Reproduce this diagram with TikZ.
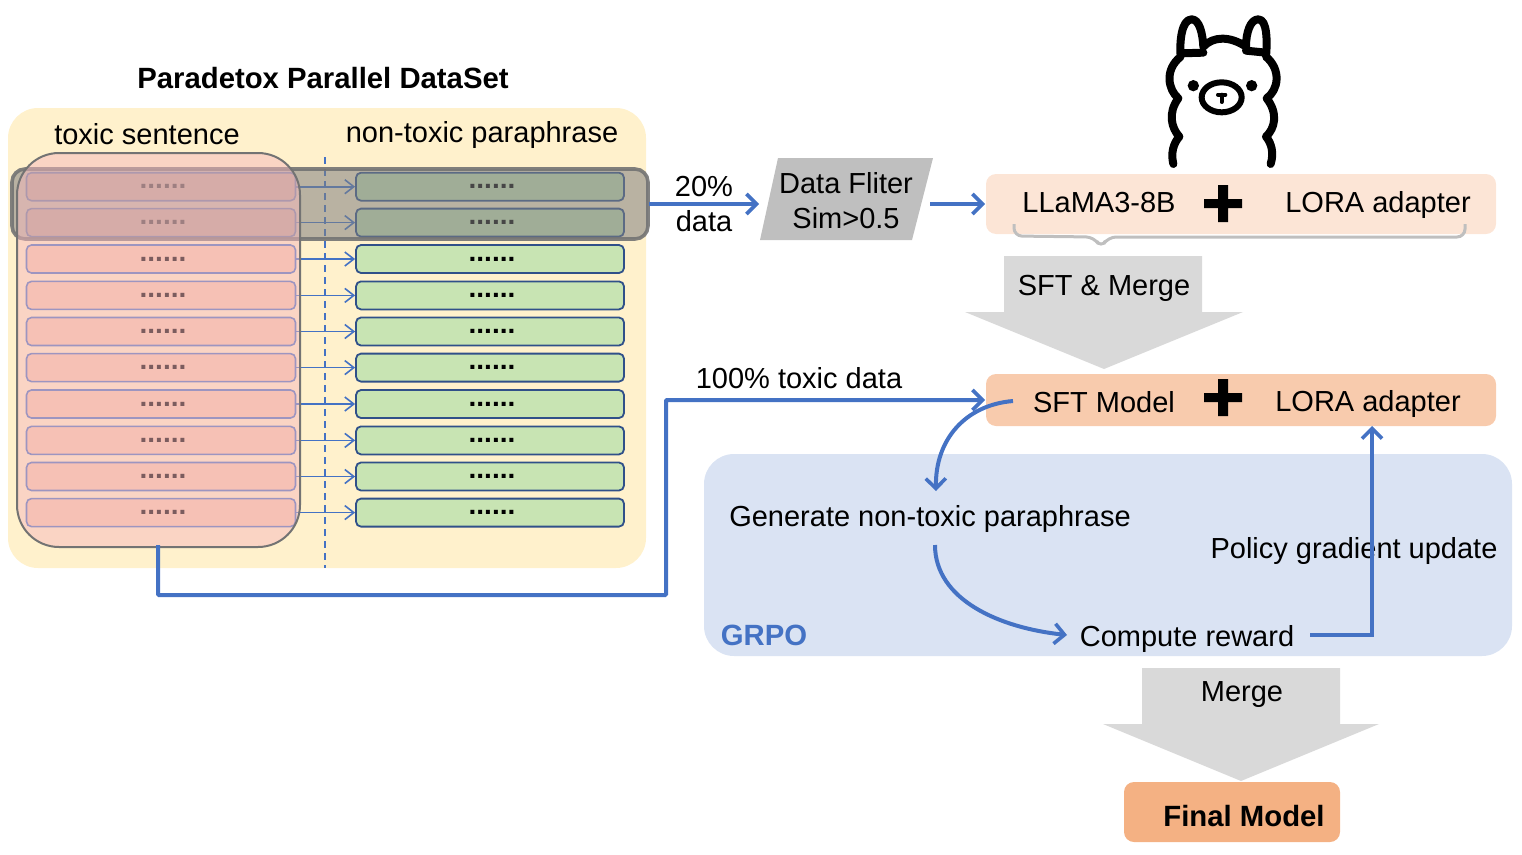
\documentclass[tikz,border=0pt]{standalone}
\usepackage{fontspec}
\setmainfont{Liberation Sans}
\usetikzlibrary{arrows.meta}
\definecolor{bluearr}{HTML}{4472C4}
\definecolor{bigarr}{HTML}{D9D9D9}
\tikzset{
    lbl/.style={font=\fontsize{29}{35}\selectfont,inner sep=0pt,align=center},
    lblbold/.style={font=\fontsize{29.3}{35}\selectfont\bfseries,inner sep=0pt},
    dots/.style={font=\fontsize{28}{28}\selectfont\bfseries,xshift=2pt},
    toxbox/.style={draw=bluearr,line width=1.6pt,fill={rgb,255:red,248;green,203;blue,173},rounded corners=5pt,minimum width=269pt,minimum height=28pt,inner sep=0pt},
    parbox/.style={draw=bluearr!70!black,line width=1.8pt,fill={rgb,255:red,200;green,228;blue,179},rounded corners=5pt,minimum width=268pt,minimum height=28pt,inner sep=0pt},
    rowarr/.style={draw=bluearr,line width=1.6pt,-{Straight Barb[length=9pt,width=14pt,line width=1.6pt]}},
    flowarr/.style={draw=bluearr,line width=4pt,-{Straight Barb[length=10pt,width=20pt,line width=3.6pt]}},
    cross/.style={fill=black},
}
\begin{document}
\begin{tikzpicture}[x=1pt,y=-1pt]
\useasboundingbox (0,0) rectangle (1522,854);
% dataset panel
\fill[rounded corners=30pt,fill={rgb,255:red,255;green,241;blue,204}] (8,108) rectangle (646,568);
\node[lblbold] (title) at (323,78) {Paradetox Parallel DataSet};
\node[lbl] (toxhead) at (147,134) {toxic sentence};
\node[lbl] (parhead) at (482,135) {non-toxic paraphrase};
\draw[bluearr,line width=1.5pt,dash pattern=on 7pt off 5pt] (325,157) -- (325,568);
\foreach \n/\y in {1/186.7,2/222.6,3/259,4/295.4,5/331.5,6/367.6,7/404,8/440.4,9/476.5,10/512.6}{
    \node[toxbox] (tox\n) at (161,\y) {};
    \node[dots] at (tox\n) {......};
    \node[parbox] (par\n) at (490,\y) {};
    \node[dots] at (par\n) {......};
    \draw[rowarr] (tox\n) -- (par\n);
}
% overlays
\draw[draw=black!55,draw opacity=.9,line width=3.6pt,fill=black!50,fill opacity=.55,rounded corners=13pt] (12,169) rectangle (648,239);
\draw[draw=black!55,line width=2pt,fill={rgb,255:red,246;green,184;blue,189},fill opacity=.5,rounded corners=42pt] (17,153) rectangle (300,547);
\coordinate (poolout) at (158,545);
\coordinate (rowout) at (649,204);
% filter
\fill[fill=black!25] (778,158) -- (933,158) -- (912,240) -- (760,240) -- cycle;
\node[lbl] (filter) at (846,201) {Data Fliter\\Sim>0.5};
\coordinate (filterin) at (759,204);
\coordinate (filterout) at (930,204);
\node[lbl] (share) at (704,204) {20\%\\data};
\draw[flowarr] (rowout) -- (filterin);
% base model
\fill[rounded corners=10pt,fill={rgb,255:red,252;green,229;blue,214}] (986,174) rectangle (1496,234);
\node[lbl] (llama) at (1099,203) {LLaMA3-8B};
\node[lbl] (lora) at (1378,205) {LORA adapter};
\fill[cross] (1204,199) rectangle (1242,208) (1218,185) rectangle (1228,222);
\coordinate (basein) at (985,204);
\draw[flowarr] (filterout) -- (basein);
\draw[black!25,line width=3pt,rounded corners=8pt] (1014,224) -- (1014,236) -- (1094,237) -- (1101,248) -- (1108,237) -- (1465,237) -- (1465,224);
% head
\begin{scope}[shift={(1140,0)},x=.3333pt,y=-.3333pt,line width=8pt,line cap=round,line join=round]
\draw (100,492) .. controls (92,460) and (100,430) .. (118,410) .. controls (95,385) and (82,340) .. (115,295) .. controls (85,270) and (72,210) .. (122,170) .. controls (118,125) and (125,58) .. (155,58) .. controls (178,58) and (188,100) .. (190,140) .. controls (220,108) and (270,108) .. (318,140) .. controls (318,100) and (330,58) .. (355,58) .. controls (382,58) and (382,125) .. (378,170) .. controls (425,210) and (415,270) .. (380,295) .. controls (415,340) and (405,385) .. (378,410) .. controls (395,430) and (402,460) .. (392,492);
\draw (125,160) -- (190,158) (318,152) -- (378,158);
\fill (160,257) circle (17);
\fill (335,257) circle (17);
\draw[line width=6pt] (245,292) ellipse (60 and 45);
\draw[line width=4pt] (234,284) -- (256,284) (245,284) -- (245,306);
\end{scope}
% sft step
\fill[bigarr] (1004,256) -- (1202,256) -- (1202,312) -- (1243,312) -- (1104,369) -- (965,312) -- (1004,312) -- cycle;
\node[lbl] (sftmerge) at (1104,288) {SFT \& Merge};
\fill[rounded corners=10pt,fill={rgb,255:red,248;green,203;blue,173}] (986,374) rectangle (1496,426);
\node[lbl] (sft) at (1104,402) {SFT Model};
\node[lbl] (lora2) at (1368,404) {LORA adapter};
\fill[cross] (1204,393) rectangle (1242,402) (1218,379) rectangle (1228,416);
\coordinate (sftin) at (985,400);
\coordinate (sftout) at (1013,401);
\coordinate (sftup) at (1372,426);
\node[lbl] (full) at (799,378) {100\% toxic data};
\draw[flowarr,rounded corners=1pt] (poolout) -- (158,595) -- (666,595) -- (666,400) -- (sftin);
% grpo panel
\fill[rounded corners=30pt,fill={rgb,255:red,218;green,227;blue,243}] (704,454) rectangle (1512,656);
\node[lblbold,text=bluearr] (grpo) at (764,635) {GRPO};
\node[lbl] (gen) at (930,519) {Generate non-toxic paraphrase};
\node[lbl] (policy) at (1354,551) {Policy gradient update};
\node[lbl] (reward) at (1187,639) {Compute reward};
\coordinate (genin) at (936,491);
\coordinate (genout) at (935,545);
\coordinate (rewardin) at (1067,635);
\coordinate (rewardout) at (1310,635);
\draw[flowarr] (sftout) .. controls (965,405) and (935,440) .. (genin);
\draw[flowarr] (genout) .. controls (935,600) and (1000,628) .. (rewardin);
\draw[flowarr] (rewardout) -- (1372,635) -- (sftup);
% final step
\fill[bigarr] (1142,668) -- (1340,668) -- (1340,724) -- (1379,724) -- (1241,781) -- (1103,724) -- (1142,724) -- cycle;
\node[lbl] (merge) at (1242,695) {Merge};
\fill[rounded corners=10pt,fill={rgb,255:red,244;green,177;blue,131}] (1124,782) rectangle (1340,842);
\node[lblbold] (final) at (1244,816) {Final Model};
\end{tikzpicture}
\end{document}
